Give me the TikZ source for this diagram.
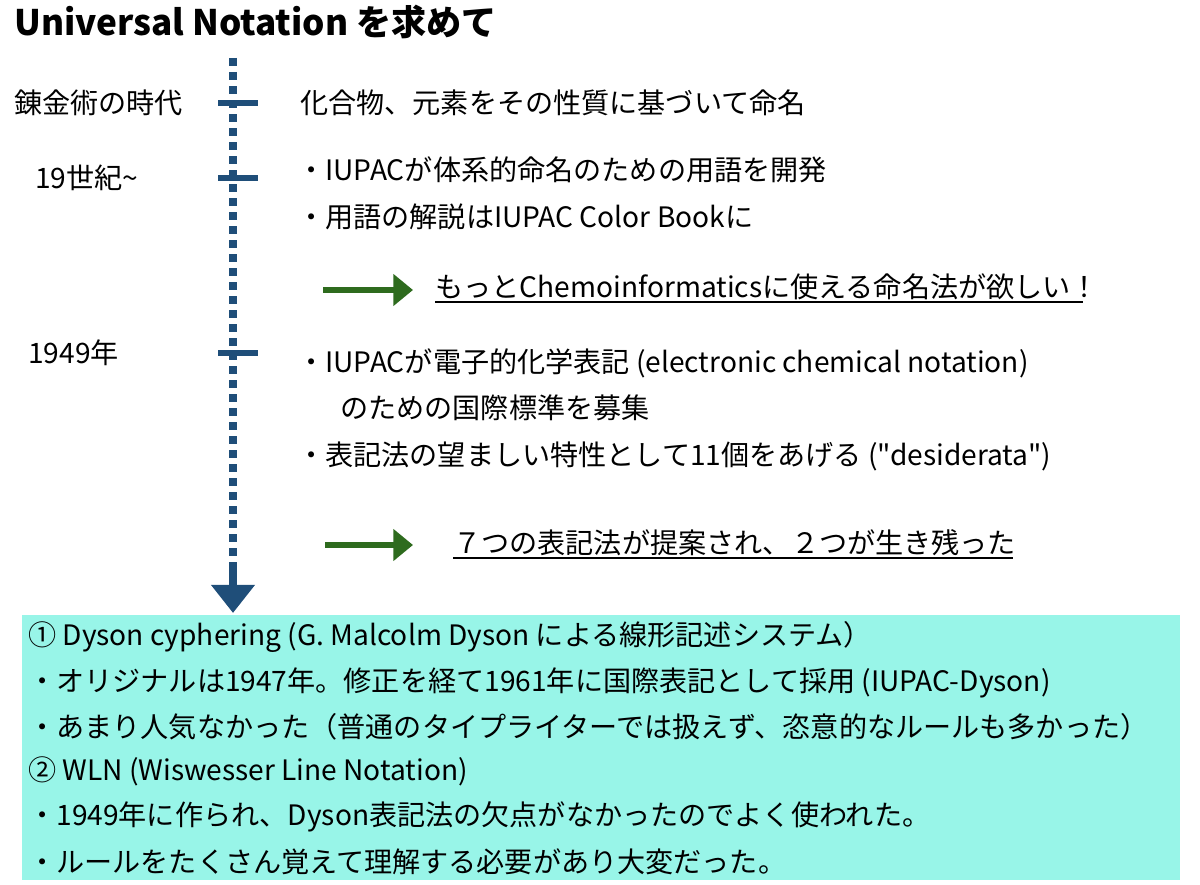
\documentclass[tikz,border=0pt]{standalone}
\usepackage{fontspec}
\setmainfont{Noto Sans CJK JP}
\newfontfamily\plainfont{Noto Sans CJK JP}
\usetikzlibrary{arrows.meta,positioning}
\definecolor{lineblue}{HTML}{1F4E79}
\definecolor{arrowgreen}{HTML}{2E6B1E}
\definecolor{boxcyan}{HTML}{98F5E8}
\tikzset{
  txt/.style={anchor=west,inner sep=0pt,font=\fontsize{20}{22}\selectfont},
  tick/.style={lineblue,line width=4pt},
  green arrow/.style={arrowgreen,line width=4.5pt,-{Triangle[length=14pt,width=22pt]}},
  uline/.style={line width=1pt}
}
\begin{document}
\begin{tikzpicture}[x=0.025cm,y=-0.025cm]
		\useasboundingbox (0,0) rectangle (1200,885);
		\fill[boxcyan] (22,615) rectangle (1180,880);
		\node[anchor=west,inner sep=0pt,font=\fontsize{25}{27}\selectfont\bfseries] (title) at (14,22) {Universal Notation を求めて};
		% time line
		\coordinate (top) at (233,58);
		\coordinate (bot) at (233,562);
		\draw[lineblue,line width=5pt,dash pattern=on 0.2cm off 0.15cm] (top) -- (bot);
		\draw[lineblue,line width=5pt,-{Triangle[length=20pt,width=30pt]}] (bot) -- (233,613);
		\draw[tick] (218,103) -- (258,103);
		\draw[tick] (218,178) -- (258,178);
		\draw[tick] (218,353) -- (258,353);
		% labels on the left
		\node[txt] (alch) at (14,103) {錬金術の時代};
		\node[txt] (c19) at (35,178) {19世紀\textasciitilde};
		\node[txt] (y1949) at (28,353) {1949年};
		% texts on the right
		\node[txt] (t1) at (300,103) {化合物、元素をその性質に基づいて命名};
		\node[txt] (t2) at (297,170) {・IUPACが体系的命名のための用語を開発};
		\node[txt] (t3) at (297,217) {・用語の解説はIUPAC Color Bookに};
		\node[txt] (t4) at (435,287) {もっとChemoinformaticsに使える命名法が欲しい！};
		\draw[uline] (435,302) -- (1083,302);
		\coordinate (g1a) at (323,290);
		\coordinate (g1b) at (413,290);
		\draw[green arrow] (g1a) -- (g1b);
		\node[txt] (t5) at (297,363) {・IUPACが電子的化学表記 (electronic chemical notation)};
		\node[txt] (t6) at (340,408) {のための国際標準を募集};
		\node[txt] (t7) at (297,456) {・表記法の望ましい特性として11個をあげる ({\plainfont"desiderata"})};
		\coordinate (g2a) at (325,545);
		\coordinate (g2b) at (413,545);
		\draw[green arrow] (g2a) -- (g2b);
		\node[txt] (t8) at (453,543) {７つの表記法が提案され、２つが生き残った};
		\draw[uline] (453,558) -- (1013,558);
		% box text
		\node[txt] (b1) at (28,637) {① Dyson cyphering (G. Malcolm Dyson による線形記述システム）};
		\node[txt] (b2) at (28,683) {・オリジナルは1947年。修正を経て1961年に国際表記として採用 (IUPAC-Dyson)};
		\node[txt] (b3) at (28,727) {・あまり人気なかった（普通のタイプライターでは扱えず、恣意的なルールも多かった）};
		\node[txt] (b4) at (28,771) {② WLN (Wiswesser Line Notation)};
		\node[txt] (b5) at (28,817) {・1949年に作られ、Dyson表記法の欠点がなかったのでよく使われた。};
		\node[txt] (b6) at (28,862) {・ルールをたくさん覚えて理解する必要があり大変だった。};
\end{tikzpicture}
\end{document}
